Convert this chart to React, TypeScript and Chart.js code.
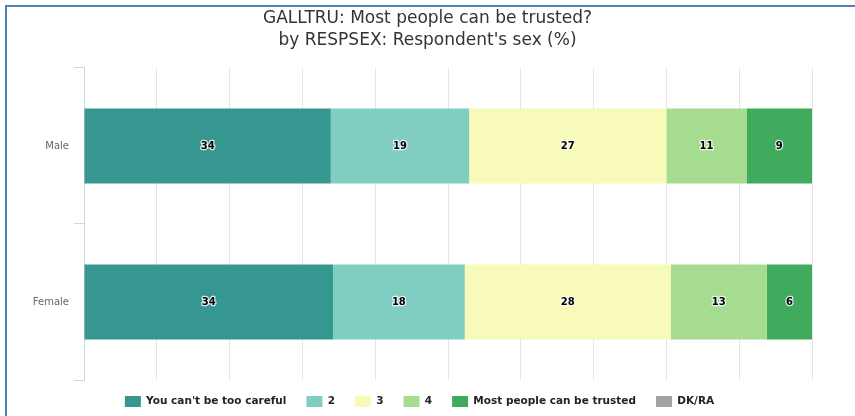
import React, { useEffect, useRef } from "react";
import { Chart, registerables } from "chart.js";

Chart.register(...registerables);

const titleLines = ["GALLTRU: Most people can be trusted?", "by RESPSEX: Respondent's sex (%)"];
const categories = ["Male", "Female"];
const seriesNames = ["You can't be too careful", "2", "3", "4", "Most people can be trusted", "DK/RA"];
const seriesColors = ["#35978f", "#80cdc1", "#f7fab8", "#a6dc90", "#41ab5d", "#a3a3a3"];
const careful = [33.9, 34.2];
const two = [19.0, 18.1];
const three = [27.1, 28.3];
const four = [11.0, 13.2];
const trusted = [9.0, 6.2];
const dkra = [0, 0];
const seriesValues = [careful, two, three, four, trusted, dkra];
const xMin = 0;
const xMax = 100;
const xStep = 10;

const FONT = "'DejaVu Sans', sans-serif";

const dataLabelPlugin = {
  id: "dataLabels",
  afterDatasetsDraw(chart: any) {
    const ctx = chart.ctx;
    ctx.save();
    ctx.font = `bold 10px ${FONT}`;
    ctx.textAlign = "center";
    ctx.textBaseline = "middle";
    ctx.lineJoin = "round";
    chart.data.datasets.forEach((ds: any, i: number) => {
      const meta = chart.getDatasetMeta(i);
      if (meta.hidden) return;
      meta.data.forEach((el: any, j: number) => {
        const v = ds.data[j];
        if (!v) return;
        const p = el.getCenterPoint();
        const txt = String(Math.round(v));
        ctx.strokeStyle = "rgba(255,255,255,0.8)";
        ctx.lineWidth = 2.5;
        ctx.strokeText(txt, p.x, p.y);
        ctx.fillStyle = "#000";
        ctx.fillText(txt, p.x, p.y);
      });
    });
    ctx.restore();
  },
};

const legendShiftPlugin = {
  id: "legendShift",
  afterLayout(chart: any) {
    if (chart.legend) {
      chart.legend.top -= 4;
      chart.legend.bottom -= 4;
      chart.legend.left -= 8;
      chart.legend.right -= 8;
    }
  },
};

export default function App() {
  const ref = useRef<HTMLCanvasElement | null>(null);

  useEffect(() => {
    if (!ref.current) return;
    const chart = new Chart(ref.current, {
      type: "bar",
      data: {
        labels: categories,
        datasets: seriesNames.map((name, i) => ({
          label: name,
          data: seriesValues[i],
          backgroundColor: seriesColors[i],
          borderWidth: 0,
          barPercentage: 0.48,
          categoryPercentage: 1,
        })),
      },
      options: {
        indexAxis: "y",
        animation: false,
        responsive: false,
        maintainAspectRatio: false,
        layout: { padding: 0 },
        scales: {
          x: {
            type: "linear",
            stacked: true,
            min: xMin,
            max: xMax,
            ticks: { display: false, stepSize: xStep },
            grid: { color: "#e6e6e6", drawTicks: false, lineWidth: 1 },
            border: { display: false },
          },
          y: {
            type: "category",
            stacked: true,
            position: "left",
            ticks: { color: "#666666", font: { family: FONT, size: 10 }, padding: 5 },
            grid: {
              offset: true,
              drawOnChartArea: false,
              drawTicks: true,
              tickLength: 10,
              color: "#ccd6eb",
            },
            border: { display: true, color: "#ccd6eb", width: 1 },
            afterFit: (s: any) => {
              s.width = 84;
            },
          },
          y2: {
            type: "category",
            position: "right",
            display: true,
            ticks: { display: false },
            grid: { display: false, drawTicks: false },
            border: { display: false },
            afterFit: (s: any) => {
              s.width = 43;
            },
          },
        },
        plugins: {
          title: {
            display: true,
            text: titleLines,
            color: "#333333",
            font: { family: FONT, size: 17, weight: "normal", lineHeight: 1.27 },
            padding: { top: 8, bottom: 16.8 },
          },
          legend: {
            display: true,
            position: "bottom",
            maxHeight: 36,
            labels: {
              boxWidth: 16,
              boxHeight: 11,
              padding: 20,
              color: "#222222",
              font: { family: FONT, size: 10.5, weight: "bold" },
            },
          },
          tooltip: { enabled: false },
        },
      },
      plugins: [dataLabelPlugin, legendShiftPlugin],
    });
    return () => chart.destroy();
  }, []);

  return (
    <div style={{ position: "fixed", left: 0, top: 0, width: 855, height: 416, background: "#fff", overflow: "hidden" }}>
      <canvas ref={ref} width={855} height={416} style={{ position: "absolute", left: 0, top: 0, width: 855, height: 416 }} />
      <div
        style={{
          position: "absolute",
          left: 5,
          top: 5,
          width: 860,
          height: 420,
          borderLeft: "2px solid #4f81bd",
          borderTop: "2px solid #4f81bd",
          pointerEvents: "none",
        }}
      />
    </div>
  );
}
